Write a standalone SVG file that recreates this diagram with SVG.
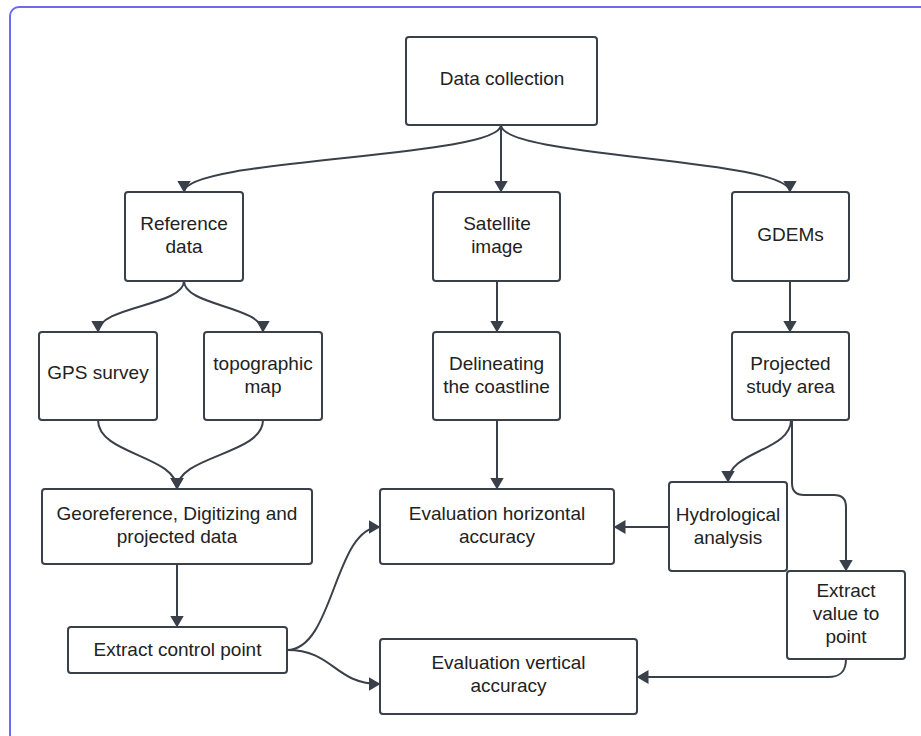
<svg xmlns="http://www.w3.org/2000/svg" width="921" height="736" viewBox="0 0 921 736">
<defs>
<marker id="arr" markerUnits="userSpaceOnUse" markerWidth="12" markerHeight="14" refX="11.5" refY="7" orient="auto">
<path d="M0,0 L12,7 L0,14 z" fill="#3a4049"/>
</marker>
<style>
.box{fill:#ffffff;stroke:#3a4049;stroke-width:2}
.lbl{font-family:"Liberation Sans",Arial,sans-serif;font-size:19px;fill:#222222;text-anchor:middle}
.c{fill:none;stroke:#3a4049;stroke-width:2;marker-end:url(#arr)}
</style>
</defs>
<rect x="0" y="0" width="921" height="736" fill="#ffffff"/>
<rect x="10" y="7" width="940" height="760" rx="9" fill="#ffffff" stroke="#6b6bf2" stroke-width="2"/>

<g id="connectors">
<path class="c" d="M501,125 C501,158 184,158 184,192"/>
<path class="c" d="M501,125 L501,192"/>
<path class="c" d="M501,125 C501,158 790,158 790,192"/>
<path class="c" d="M184,281 C184,306 98,306 98,332"/>
<path class="c" d="M184,281 C184,306 263,306 263,332"/>
<path class="c" d="M497,281 L497,332"/>
<path class="c" d="M790,281 L790,332"/>
<path class="c" d="M98,420 C98,455 177,455 177,489"/>
<path class="c" d="M263,420 C263,455 177,455 177,489"/>
<path class="c" d="M497,420 L497,489"/>
<path class="c" d="M791,420 C791,451 728,451 728,482"/>
<path class="c" d="M792,420 L792,483 Q792,495 804,495 L834,495 Q846,495 846,507 L846,571"/>
<path class="c" d="M669,527 L614,527"/>
<path class="c" d="M846,659 C846,672 840,677 828,677 L637,677"/>
<path class="c" d="M177,564 L177,627"/>
<path class="c" d="M287,650 C334,650 334,527 380,527"/>
<path class="c" d="M287,650 C334,650 334,684 380,684"/>
</g>

<g id="data-collection"><rect class="box" x="406" y="37" width="191" height="88" rx="3"/><text class="lbl" x="502" y="85">Data collection</text></g>
<g id="reference-data"><rect class="box" x="125" y="192" width="118" height="89" rx="3"/><text class="lbl" x="184" y="230">Reference</text><text class="lbl" x="184" y="253">data</text></g>
<g id="satellite-image"><rect class="box" x="433" y="192" width="127" height="89" rx="3"/><text class="lbl" x="497" y="230">Satellite</text><text class="lbl" x="497" y="253">image</text></g>
<g id="gdems"><rect class="box" x="732" y="192" width="117" height="89" rx="3"/><text class="lbl" x="790.5" y="241">GDEMs</text></g>
<g id="gps-survey"><rect class="box" x="39" y="332" width="118" height="88" rx="3"/><text class="lbl" x="98" y="379">GPS survey</text></g>
<g id="topographic-map"><rect class="box" x="204" y="332" width="118" height="88" rx="3"/><text class="lbl" x="263" y="370">topographic</text><text class="lbl" x="263" y="393">map</text></g>
<g id="delineating"><rect class="box" x="433" y="332" width="127" height="88" rx="3"/><text class="lbl" x="496.5" y="370">Delineating</text><text class="lbl" x="496.5" y="393">the coastline</text></g>
<g id="projected-study-area"><rect class="box" x="732" y="332" width="117" height="88" rx="3"/><text class="lbl" x="790.5" y="370">Projected</text><text class="lbl" x="790.5" y="393">study area</text></g>
<g id="georeference"><rect class="box" x="42" y="489" width="270" height="75" rx="3"/><text class="lbl" x="177" y="520">Georeference, Digitizing and</text><text class="lbl" x="177" y="543">projected data</text></g>
<g id="eval-horizontal"><rect class="box" x="380" y="489" width="234" height="75" rx="3"/><text class="lbl" x="497" y="520">Evaluation horizontal</text><text class="lbl" x="497" y="543">accuracy</text></g>
<g id="hydrological"><rect class="box" x="669" y="482" width="118" height="89" rx="3"/><text class="lbl" x="728" y="521">Hydrological</text><text class="lbl" x="728" y="544">analysis</text></g>
<g id="extract-value"><rect class="box" x="787" y="571" width="118" height="88" rx="3"/><text class="lbl" x="846" y="597">Extract</text><text class="lbl" x="846" y="620">value to</text><text class="lbl" x="846" y="643">point</text></g>
<g id="extract-control"><rect class="box" x="68" y="627" width="219" height="46" rx="3"/><text class="lbl" x="177.5" y="656">Extract control point</text></g>
<g id="eval-vertical"><rect class="box" x="380" y="639" width="257" height="75" rx="3"/><text class="lbl" x="508.5" y="669">Evaluation vertical</text><text class="lbl" x="508.5" y="692">accuracy</text></g>
</svg>
